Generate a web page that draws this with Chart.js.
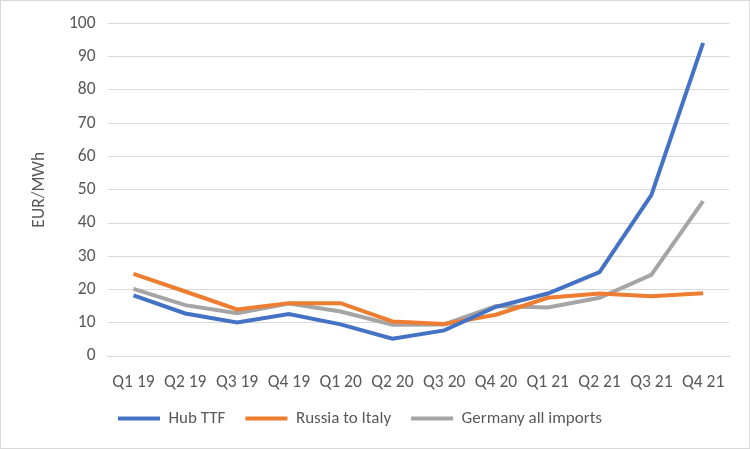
<!DOCTYPE html>
<html>
<head>
<meta charset="utf-8">
<script src="https://cdn.jsdelivr.net/npm/chart.js@4"></script>
<style>
  html, body { margin: 0; padding: 0; background: #fff; }
  #wrap { width: 748px; height: 447px; border: 1px solid #d9d9d9; }
</style>
</head>
<body>
<div id="wrap"><canvas id="chart"></canvas></div>
<script>
// Quarter labels
const quarters = ["Q1 19", "Q2 19", "Q3 19", "Q4 19", "Q1 20", "Q2 20", "Q3 20", "Q4 20", "Q1 21", "Q2 21", "Q3 21", "Q4 21"];

// Prices in EUR/MWh
const hubTTF = [18.2, 12.8, 10.1, 12.6, 9.5, 5.2, 7.7, 14.8, 18.8, 25.2, 48.4, 94.2];
const russiaItaly = [24.7, 19.4, 14.0, 15.9, 15.9, 10.4, 9.6, 12.4, 17.5, 18.8, 18.0, 18.9];
const germanyImports = [20.2, 15.3, 12.9, 15.8, 13.4, 9.4, 9.5, 15.0, 14.6, 17.5, 24.4, 46.6];

const textColor = "#595959";
const fontFamily = "Carlito, 'Open Sans', 'Noto Sans', sans-serif";

function series(label, data, color) {
    return {
        label: label,
        data: data,
        borderColor: color,
        backgroundColor: color,
        borderWidth: 4,
        pointRadius: 0,
        pointHoverRadius: 0,
        tension: 0,
        fill: false
    };
}

// legend keeps its horizontal spacing but takes less height, and sits a bit to the left
const tightLegend = {
    id: "tightLegend",
    afterInit(chart) {
        const legend = chart.legend;
        const fit = legend.fit;
        const draw = legend.draw;
        legend.fit = function () {
            fit.call(this);
            this.height -= 11;
        };
        legend.draw = function () {
            const ctx = this.ctx;
            ctx.save();
            ctx.translate(-17, -11);
            draw.apply(this, arguments);
            ctx.restore();
        };
    }
};

new Chart(document.getElementById("chart").getContext("2d"), {
    type: "line",
    data: {
        labels: quarters,
        datasets: [
            series("Hub TTF", hubTTF, "#4472c4"),
            series("Russia to Italy", russiaItaly, "#ed7d31"),
            series("Germany all imports", germanyImports, "#a5a5a5")
        ]
    },
    options: {
        responsive: true,
        maintainAspectRatio: false,
        animation: false,
        layout: { padding: { top: 0, right: 20, left: 24, bottom: 11 } },
        plugins: {
            tooltip: { enabled: false },
            legend: {
                position: "bottom",
                labels: {
                    usePointStyle: true,
                    pointStyle: "line",
                    pointStyleWidth: 42,
                    boxWidth: 42,
                    boxHeight: 4,
                    padding: 20,
                    color: textColor,
                    font: { family: fontFamily, size: 17 }
                }
            }
        },
        scales: {
            x: {
                offset: true,
                grid: { display: false },
                border: { display: true, color: "#d9d9d9", width: 1 },
                ticks: { color: textColor, font: { family: fontFamily, size: 17.5 }, maxRotation: 0, padding: 8 }
            },
            y: {
                min: 0,
                max: 100,
                ticks: { stepSize: 10, color: textColor, font: { family: fontFamily, size: 17.5 }, padding: 12 },
                grid: { color: "#d9d9d9", lineWidth: 1, drawTicks: false },
                border: { display: false },
                title: {
                    display: true,
                    text: "EUR/MWh",
                    color: textColor,
                    font: { family: fontFamily, size: 17.5 },
                    padding: { top: 4, bottom: 7 }
                }
            }
        }
    },
    plugins: [tightLegend]
});
</script>
</body>
</html>
